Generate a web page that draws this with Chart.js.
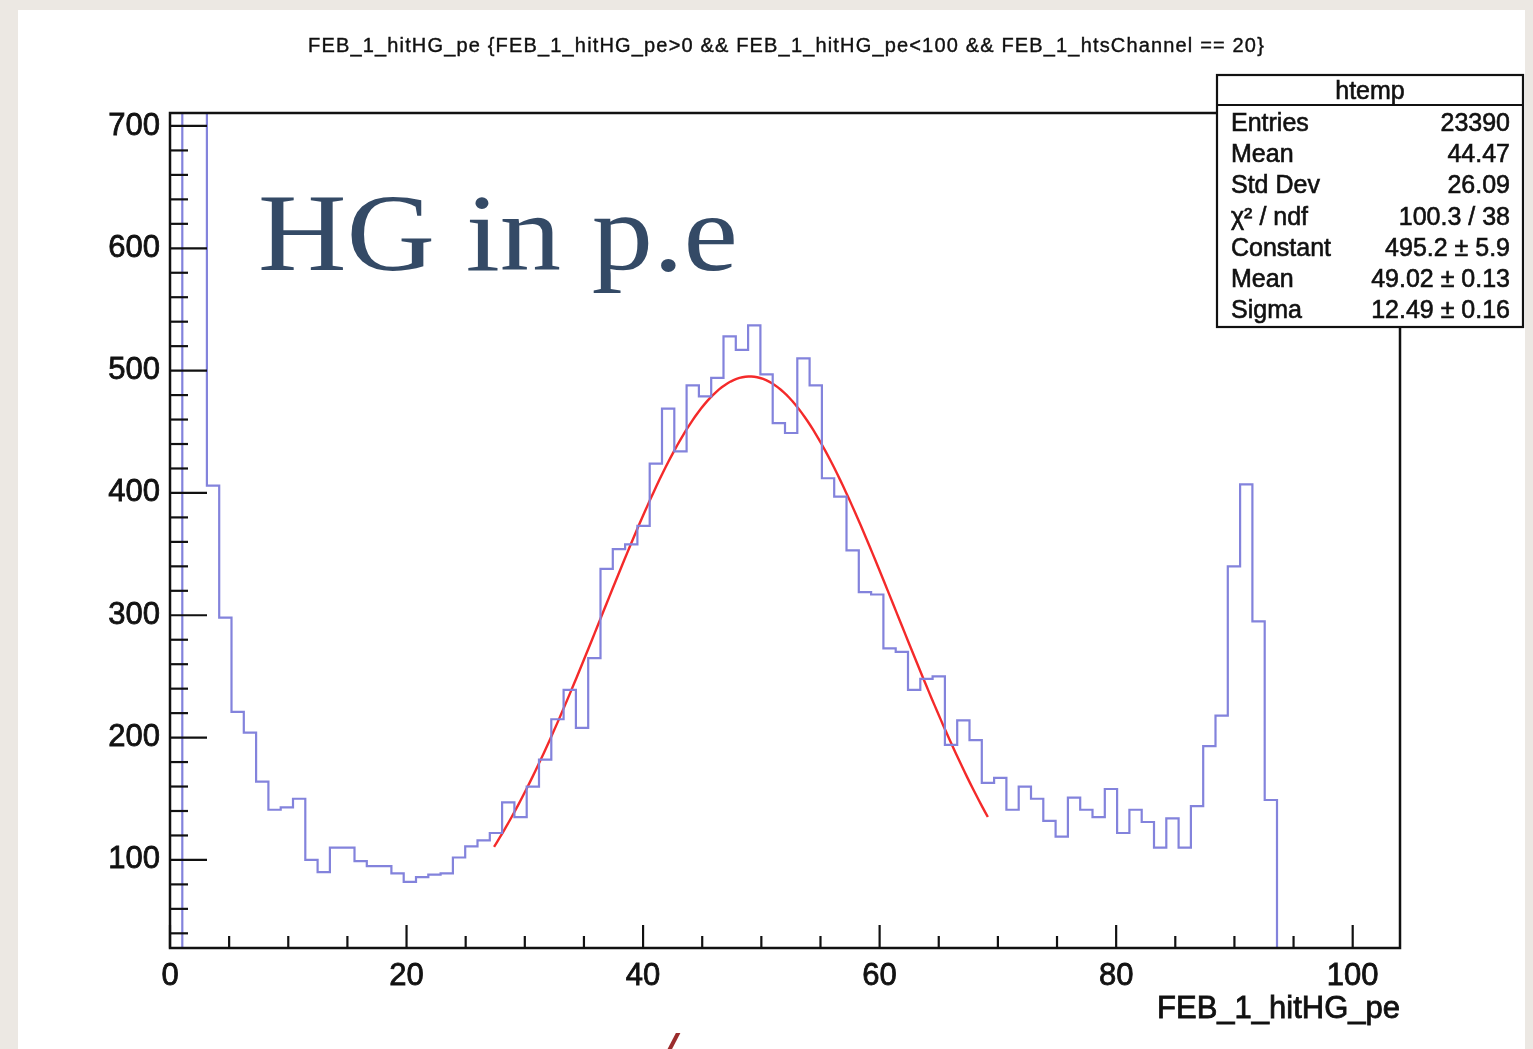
<!DOCTYPE html>
<html>
<head>
<meta charset="utf-8">
<title>FEB_1_hitHG_pe</title>
<script src="https://cdn.jsdelivr.net/npm/chart.js@4.4.1/dist/chart.umd.min.js"></script>
<style>
  html, body { margin: 0; padding: 0; background: #ece8e3; overflow: hidden; }
  #wrap { width: 1533px; height: 1049px; }
  canvas { display: block; }
</style>
</head>
<body>
<div id="wrap"><canvas id="hist" width="1533" height="1049"></canvas></div>
<script>
// htemp: FEB_1_hitHG_pe, 100 bins of 1.04 p.e. over [0, 104)
var BIN_WIDTH = 1.04;
var X_MIN = 0, X_MAX = 104;
var Y_MIN = 28, Y_MAX = 710.6;

var binCounts = [
  0, 1590, 950, 406, 298, 221, 204, 164, 141, 143,
  150, 100, 90, 110, 110, 99, 95, 95, 89, 82,
  86, 88, 89, 102, 111, 116, 122, 147, 135, 160,
  182, 215, 239, 208, 265, 338, 354, 358, 373, 424,
  469, 434, 488, 479, 494, 528, 517, 537, 497, 457,
  449, 510, 488, 412, 397, 353, 319, 317, 273, 270,
  239, 248, 250, 194, 214, 198, 163, 167, 141, 160,
  150, 132, 119, 151, 141, 135, 158, 122, 141, 131,
  110, 134, 110, 144, 193, 218, 340, 407, 295, 149,
  0, 0, 0, 0, 0, 0, 0, 0, 0, 0
];

// gaus fit (parameters as printed in the stats box)
var FIT_CONSTANT = 495.2, FIT_MEAN = 49.02, FIT_SIGMA = 12.49;
var FIT_RANGE = [27.4, 69.3];

var xTickLabels = [0, 20, 40, 60, 80, 100];
var yTickLabels = [100, 200, 300, 400, 500, 600, 700];

var statsTitle = "htemp";
var statsLabels = ["Entries", "Mean", "Std Dev", "\u03c7\u00b2 / ndf", "Constant", "Mean", "Sigma"];
var statsValues = ["23390", "44.47", "26.09", "100.3 / 38", "495.2 \u00b1 5.9", "49.02 \u00b1 0.13", "12.49 \u00b1 0.16"];

var plotTitle = "FEB_1_hitHG_pe {FEB_1_hitHG_pe>0 && FEB_1_hitHG_pe<100 && FEB_1_htsChannel == 20}";
var xAxisTitle = "FEB_1_hitHG_pe";
var slideLabel = "HG in p.e";

var INK = "#111111";
var SANS = "'Liberation Sans', Arial, Helvetica, sans-serif";
var SERIF = "'Liberation Serif', 'Times New Roman', serif";
var HIST_COLOR = "#8383dc";
var FIT_COLOR = "#f42a2a";

// step outline: one point per left bin edge, plus the closing edge
var histPoints = binCounts.map(function (n, i) { return { x: i * BIN_WIDTH, y: n }; });
histPoints.push({ x: binCounts.length * BIN_WIDTH, y: binCounts[binCounts.length - 1] });

var fitPoints = [];
for (var fx = FIT_RANGE[0]; fx <= FIT_RANGE[1] + 1e-9; fx += 0.25) {
  var z = (fx - FIT_MEAN) / FIT_SIGMA;
  fitPoints.push({ x: fx, y: FIT_CONSTANT * Math.exp(-0.5 * z * z) });
}

function seg(ctx, x1, y1, x2, y2) {
  ctx.beginPath(); ctx.moveTo(x1, y1); ctx.lineTo(x2, y2); ctx.stroke();
}

// ROOT text reads heavier than plain Liberation Sans: fill plus a thin stroke
function heavyText(ctx, text, x, y, sw) {
  ctx.fillText(text, x, y);
  ctx.lineWidth = sw;
  ctx.strokeText(text, x, y);
}

// spread text over a given width with letter spacing (ROOT fonts run wide)
function spreadText(ctx, text, left, y, width, sw) {
  ctx.textAlign = "left";
  var w = ctx.measureText(text).width;
  if ("letterSpacing" in ctx) {
    ctx.letterSpacing = ((width - w) / text.length) + "px";
    heavyText(ctx, text, left, y, sw);
    ctx.letterSpacing = "0px";
  } else {
    ctx.save(); ctx.translate(left, y); ctx.scale(width / w, 1);
    heavyText(ctx, text, 0, 0, sw); ctx.restore();
  }
}

var rootStyle = {
  id: "rootStyle",
  beforeDraw: function (chart) {
    var ctx = chart.ctx;
    ctx.save();
    ctx.fillStyle = "#ece8e3";
    ctx.fillRect(0, 0, chart.width, chart.height);
    ctx.fillStyle = "#ffffff";
    ctx.fillRect(18, 10, 1507, 1039);
    ctx.restore();
  },
  afterDraw: function (chart) {
    var ctx = chart.ctx, a = chart.chartArea;
    var xs = chart.scales.x, ys = chart.scales.y;
    ctx.save();
    ctx.strokeStyle = INK;
    ctx.fillStyle = INK;

    // frame
    ctx.lineWidth = 2.5;
    ctx.strokeRect(a.left, a.top, a.right - a.left, a.bottom - a.top);

    // ticks drawn inside the frame, ROOT style
    ctx.lineWidth = 2.2;
    var v, p;
    for (v = X_MIN; v <= X_MAX; v += 5) {
      p = xs.getPixelForValue(v);
      seg(ctx, p, a.bottom, p, a.bottom - (v % 20 === 0 ? 23 : 12));
    }
    for (v = 40; v <= Y_MAX; v += 20) {
      p = ys.getPixelForValue(v);
      seg(ctx, a.left, p, a.left + (v % 100 === 0 ? 37 : 18), p);
    }

    // title
    ctx.font = "20px " + SANS;
    ctx.textBaseline = "alphabetic";
    spreadText(ctx, plotTitle, 308, 52, 957, 0.4);

    // x axis title
    ctx.font = "31px " + SANS;
    ctx.textAlign = "right";
    heavyText(ctx, xAxisTitle, a.right, 1018, 0.8);

    // stats box
    var bx = 1217, by = 75, bw = 306, bh = 252;
    ctx.fillStyle = "#ffffff";
    ctx.fillRect(bx, by, bw, bh);
    ctx.lineWidth = 2.2;
    ctx.strokeRect(bx, by, bw, bh);
    seg(ctx, bx, by + 30, bx + bw, by + 30);
    ctx.fillStyle = INK;
    ctx.font = "25px " + SANS;
    ctx.textAlign = "center";
    heavyText(ctx, statsTitle, bx + bw / 2, by + 24, 0.6);
    statsLabels.forEach(function (lab, k) {
      var yb = 131 + k * 31.2;
      ctx.textAlign = "left";
      heavyText(ctx, lab, 1231, yb, 0.6);
      ctx.textAlign = "right";
      heavyText(ctx, statsValues[k], 1510, yb, 0.6);
    });

    // slide label
    ctx.fillStyle = "#344a66";
    ctx.font = "110px " + SERIF;
    ctx.textAlign = "left";
    var lw = ctx.measureText(slideLabel).width;
    ctx.save();
    ctx.translate(258, 270);
    ctx.scale(480 / lw, 1);
    ctx.fillText(slideLabel, 0, 0);
    ctx.restore();

    // fragment of the next slide line, cut by the page edge
    ctx.fillStyle = "#9b2c2c";
    ctx.font = "italic bold 66px " + SERIF;
    ctx.fillText("/", 657, 1076);

    ctx.restore();
  }
};

Chart.defaults.font.family = SANS;
Chart.defaults.color = INK;
Chart.defaults.animation = false;

var tickFont = { size: 31 };

new Chart(document.getElementById("hist"), {
  type: "line",
  data: {
    datasets: [
      {
        label: "htemp",
        data: histPoints,
        stepped: "before",
        borderColor: HIST_COLOR,
        borderWidth: 2.2,
        pointRadius: 0,
        fill: false
      },
      {
        label: "gaus",
        data: fitPoints,
        borderColor: FIT_COLOR,
        borderWidth: 2.4,
        pointRadius: 0,
        tension: 0,
        fill: false
      }
    ]
  },
  options: {
    responsive: false,
    animation: false,
    events: [],
    layout: { padding: { top: 113, right: 133, left: 0, bottom: 0 } },
    plugins: { legend: { display: false }, tooltip: { enabled: false }, title: { display: false } },
    scales: {
      x: {
        type: "linear",
        min: X_MIN,
        max: X_MAX,
        grid: { display: false, drawTicks: false },
        border: { display: false },
        afterBuildTicks: function (s) { s.ticks = xTickLabels.map(function (t) { return { value: t }; }); },
        afterFit: function (s) { s.height = 101; },
        ticks: { font: tickFont, color: INK, padding: 10, maxRotation: 0, autoSkip: false,
                 textStrokeColor: INK, textStrokeWidth: 0.8 }
      },
      y: {
        type: "linear",
        min: Y_MIN,
        max: Y_MAX,
        grid: { display: false, drawTicks: false },
        border: { display: false },
        afterBuildTicks: function (s) { s.ticks = yTickLabels.map(function (t) { return { value: t }; }); },
        afterFit: function (s) { s.width = 170; },
        ticks: { font: tickFont, color: INK, padding: 10, autoSkip: false,
                 textStrokeColor: INK, textStrokeWidth: 0.8 }
      }
    }
  },
  plugins: [rootStyle]
});
</script>
</body>
</html>
